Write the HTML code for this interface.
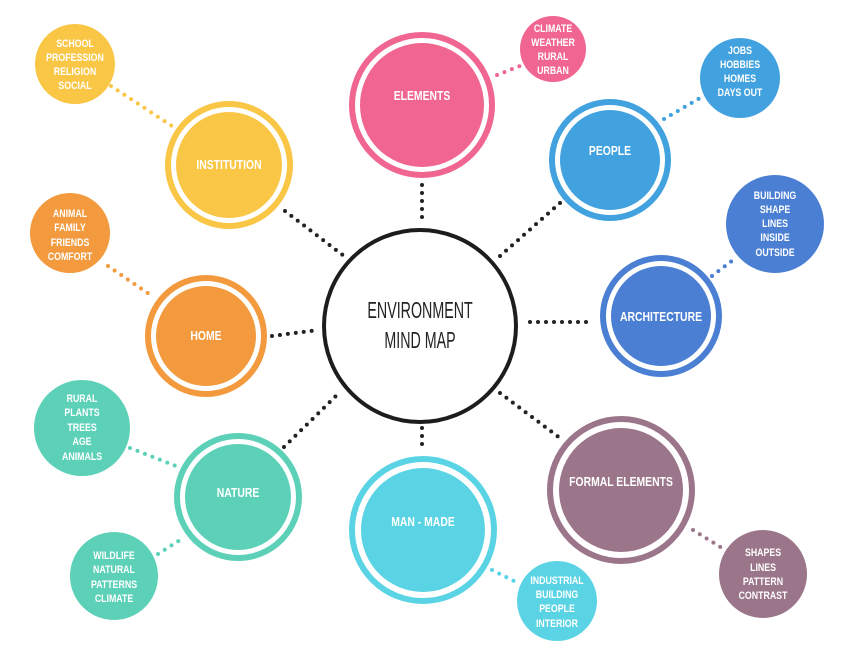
<!DOCTYPE html>
<html><head><meta charset="utf-8"><style>
html,body{margin:0;padding:0;background:#fff}
svg text{font-family:"Liberation Sans",sans-serif;fill:#fff;text-anchor:middle;font-weight:bold;transform-box:fill-box;transform-origin:center;transform:scaleX(.8)}
svg text.t{transform:scaleX(.62)}
</style></head><body>
<svg width="843" height="651" viewBox="0 0 843 651" xmlns="http://www.w3.org/2000/svg">
<g fill="none" stroke-linecap="round" stroke-width="4" stroke-dasharray="0 8">
<g stroke="#222">
<line x1="422" y1="185" x2="422" y2="222"/>
<line x1="560" y1="203" x2="500" y2="256"/>
<line x1="530" y1="322" x2="594" y2="322"/>
<line x1="500" y1="393" x2="560" y2="438"/>
<line x1="422" y1="428" x2="422" y2="452"/>
<line x1="284" y1="447" x2="340" y2="392"/>
<line x1="272" y1="336" x2="318" y2="330"/>
<line x1="285" y1="211" x2="344" y2="256"/>
</g>
<line stroke="#f06690" x1="497" y1="75" x2="520" y2="66"/>
<line stroke="#41a2df" x1="664" y1="119" x2="700" y2="98"/>
<line stroke="#4a7fd4" x1="712" y1="276" x2="733" y2="260"/>
<line stroke="#9b7589" x1="693" y1="530" x2="722" y2="548"/>
<line stroke="#5ad4e4" x1="492" y1="570" x2="520" y2="584"/>
<line stroke="#5dd1b8" x1="158" y1="554" x2="180" y2="540"/>
<line stroke="#5dd1b8" x1="130" y1="448" x2="176" y2="466"/>
<line stroke="#f29a3d" x1="108" y1="266" x2="152" y2="296"/>
<line stroke="#f9c646" x1="111" y1="86" x2="172" y2="126"/>
</g>
<circle cx="420" cy="326" r="96" fill="#fff" stroke="#1d1d1d" stroke-width="4"/>
<text class="t" x="420" y="318" style="fill:#222;font-weight:normal;font-size:23px">ENVIRONMENT</text>
<text class="t" x="420" y="348" style="fill:#222;font-weight:normal;font-size:23px">MIND MAP</text>
<g stroke-width="6">
<circle cx="422" cy="105" r="70" fill="#fff" stroke="#f06690"/><circle cx="422" cy="105" r="62" fill="#f06690"/>
<circle cx="229" cy="165" r="61" fill="#fff" stroke="#f9c646"/><circle cx="229" cy="165" r="53" fill="#f9c646"/>
<circle cx="610" cy="160" r="58" fill="#fff" stroke="#41a2df"/><circle cx="610" cy="160" r="50" fill="#41a2df"/>
<circle cx="661" cy="316" r="58" fill="#fff" stroke="#4a7fd4"/><circle cx="661" cy="316" r="50" fill="#4a7fd4"/>
<circle cx="206" cy="336" r="58" fill="#fff" stroke="#f29a3d"/><circle cx="206" cy="336" r="50" fill="#f29a3d"/>
<circle cx="238" cy="497" r="61" fill="#fff" stroke="#5dd1b8"/><circle cx="238" cy="497" r="53" fill="#5dd1b8"/>
<circle cx="423" cy="530" r="71" fill="#fff" stroke="#5ad4e4"/><circle cx="423" cy="530" r="62" fill="#5ad4e4"/>
<circle cx="621" cy="490" r="71" fill="#fff" stroke="#9b7589"/><circle cx="621" cy="490" r="62" fill="#9b7589"/>
</g>
<circle cx="75" cy="64" r="40" fill="#f9c646"/>
<circle cx="553" cy="49" r="33" fill="#f06690"/>
<circle cx="740" cy="78" r="40" fill="#41a2df"/>
<circle cx="775" cy="224" r="49" fill="#4a7fd4"/>
<circle cx="70" cy="233" r="40" fill="#f29a3d"/>
<circle cx="82" cy="428" r="48" fill="#5dd1b8"/>
<circle cx="114" cy="576" r="44" fill="#5dd1b8"/>
<circle cx="557" cy="601" r="40" fill="#5ad4e4"/>
<circle cx="763" cy="574" r="44" fill="#9b7589"/>
<g font-size="13">
<text x="422" y="100">ELEMENTS</text>
<text x="229" y="169">INSTITUTION</text>
<text x="610" y="155">PEOPLE</text>
<text x="661" y="321">ARCHITECTURE</text>
<text x="206" y="340">HOME</text>
<text x="238" y="497">NATURE</text>
<text x="423" y="526">MAN - MADE</text>
<text x="621" y="486">FORMAL ELEMENTS</text>
</g>
<g font-size="11">
<text x="75" y="47">SCHOOL</text><text x="75" y="61">PROFESSION</text><text x="75" y="75">RELIGION</text><text x="75" y="89">SOCIAL</text>
<text x="553" y="32">CLIMATE</text><text x="553" y="46">WEATHER</text><text x="553" y="60">RURAL</text><text x="553" y="74">URBAN</text>
<text x="740" y="54">JOBS</text><text x="740" y="68">HOBBIES</text><text x="740" y="82">HOMES</text><text x="740" y="96">DAYS OUT</text>
<text x="775" y="199">BUILDING</text><text x="775" y="213">SHAPE</text><text x="775" y="227">LINES</text><text x="775" y="241">INSIDE</text><text x="775" y="256">OUTSIDE</text>
<text x="70" y="217">ANIMAL</text><text x="70" y="231">FAMILY</text><text x="70" y="246">FRIENDS</text><text x="70" y="260">COMFORT</text>
<text x="82" y="402">RURAL</text><text x="82" y="416">PLANTS</text><text x="82" y="431">TREES</text><text x="82" y="445">AGE</text><text x="82" y="460">ANIMALS</text>
<text x="114" y="559">WILDLIFE</text><text x="114" y="573">NATURAL</text><text x="114" y="588">PATTERNS</text><text x="114" y="602">CLIMATE</text>
<text x="557" y="584">INDUSTRIAL</text><text x="557" y="598">BUILDING</text><text x="557" y="612">PEOPLE</text><text x="557" y="627">INTERIOR</text>
<text x="763" y="556">SHAPES</text><text x="763" y="571">LINES</text><text x="763" y="585">PATTERN</text><text x="763" y="599">CONTRAST</text>
</g>
</svg>
</body></html>
